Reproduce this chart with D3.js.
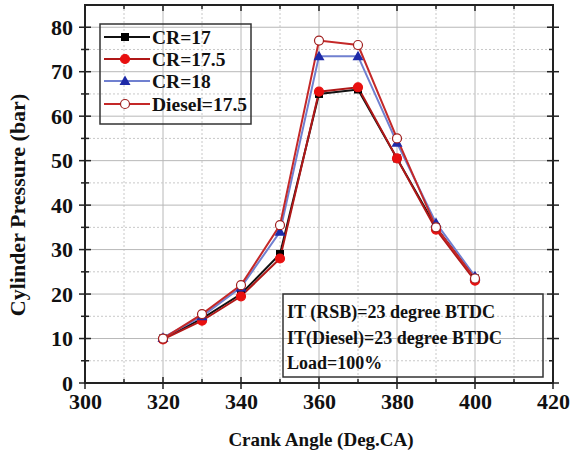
<!DOCTYPE html>
<html>
<head>
<meta charset="utf-8">
<script src="https://cdn.jsdelivr.net/npm/d3@7"></script>
<style>
  body { margin: 0; background: #fff; }
</style>
</head>
<body>
<div id="chart"></div>
<script>
var svgWidth = 575;
var svgHeight = 461;

var margin = { top: 5, right: 22, bottom: 78, left: 85 };
var width = svgWidth - margin.left - margin.right;
var height = svgHeight - margin.top - margin.bottom;
var fontName = "Liberation Serif";

// data
var crankAngle = [320, 330, 340, 350, 360, 370, 380, 390, 400];
var cr17      = [10.0, 14.5, 20.0, 29.0, 65.0, 66.0, 50.5, 35.0, 23.5];
var cr175     = [9.8, 14.0, 19.5, 28.0, 65.5, 66.5, 50.5, 34.5, 23.0];
var cr18      = [10.2, 15.0, 21.5, 34.0, 73.5, 73.5, 54.0, 36.0, 24.0];
var diesel175 = [10.0, 15.5, 22.0, 35.5, 77.0, 76.0, 55.0, 35.0, 23.5];

var seriesNames = ["CR=17", "CR=17.5", "CR=18", "Diesel=17.5"];
var xTicks = [300, 320, 340, 360, 380, 400, 420];
var yTicks = [0, 10, 20, 30, 40, 50, 60, 70, 80];
var notes = ["IT (RSB)=23 degree BTDC", "IT(Diesel)=23 degree BTDC", "Load=100%"];

var series = [
  { name: seriesNames[0], values: cr17, line: "#111", marker: "square", fill: "#000", stroke: "#000" },
  { name: seriesNames[1], values: cr175, line: "#b01818", marker: "circle", fill: "#e81010", stroke: "#e81010" },
  { name: seriesNames[2], values: cr18, line: "#7080d0", marker: "triangle", fill: "#1e2aa8", stroke: "#1e2aa8" },
  { name: seriesNames[3], values: diesel175, line: "#c42828", marker: "circle", fill: "#fff", stroke: "#a02020" }
];

var svg = d3.select("#chart")
  .append("svg")
  .attr("width", svgWidth)
  .attr("height", svgHeight);

// every text gets its family, weight and size as inline style
function label(sel, size) {
  return sel.style("font-family", fontName).style("font-weight", "bold")
    .style("font-size", size + "px").attr("fill", "#111");
}

var chartGroup = svg.append("g")
  .attr("transform", `translate(${margin.left}, ${margin.top})`);

var xScale = d3.scaleLinear().domain([300, 420]).range([0, width]);
var yScale = d3.scaleLinear().domain([0, 85]).range([height, 0]);

// grid: solid at major, dotted at minor
var majorX = d3.range(320, 420, 20);
var minorX = d3.range(310, 420, 20);
var majorY = d3.range(10, 85, 10);
var minorY = d3.range(5, 85, 10);

chartGroup.selectAll(".gx").data(majorX).enter().append("line")
  .attr("x1", d => xScale(d)).attr("x2", d => xScale(d))
  .attr("y1", 0).attr("y2", height)
  .attr("stroke", "#b8b8b8").attr("stroke-width", 1);
chartGroup.selectAll(".gxm").data(minorX).enter().append("line")
  .attr("x1", d => xScale(d)).attr("x2", d => xScale(d))
  .attr("y1", 0).attr("y2", height)
  .attr("stroke", "#c8c8c8").attr("stroke-width", 1).attr("stroke-dasharray", "2,2");
chartGroup.selectAll(".gy").data(majorY).enter().append("line")
  .attr("y1", d => yScale(d)).attr("y2", d => yScale(d))
  .attr("x1", 0).attr("x2", width)
  .attr("stroke", "#b8b8b8").attr("stroke-width", 1);
chartGroup.selectAll(".gym").data(minorY).enter().append("line")
  .attr("y1", d => yScale(d)).attr("y2", d => yScale(d))
  .attr("x1", 0).attr("x2", width)
  .attr("stroke", "#c8c8c8").attr("stroke-width", 1).attr("stroke-dasharray", "2,2");

// axes
var bottomAxis = d3.axisBottom(xScale).tickValues(xTicks).tickSize(0).tickPadding(10);
var leftAxis = d3.axisLeft(yScale).tickValues(yTicks).tickSize(0).tickPadding(12);

var gx = chartGroup.append("g").attr("transform", `translate(0, ${height})`).call(bottomAxis);
var gy = chartGroup.append("g").call(leftAxis);
[gx, gy].forEach(function(g) {
  g.select(".domain").remove();
  g.attr("font-family", null).attr("font-size", null);
  label(g.selectAll("text"), 22);
});

// frame
chartGroup.append("rect")
  .attr("x", 0).attr("y", 0).attr("width", width).attr("height", height)
  .attr("fill", "none").attr("stroke", "#222").attr("stroke-width", 2);

// tick marks on all four sides
var allMajorX = d3.range(300, 421, 20), allMinorX = d3.range(310, 420, 20);
var allMajorY = d3.range(0, 81, 10), allMinorY = d3.range(5, 85, 10);
function tickLines(vals, horiz, pos, a, b) {
  chartGroup.append("g").selectAll("line").data(vals).enter().append("line")
    .attr("x1", d => horiz ? xScale(d) : pos + a)
    .attr("x2", d => horiz ? xScale(d) : pos + b)
    .attr("y1", d => horiz ? pos + a : yScale(d))
    .attr("y2", d => horiz ? pos + b : yScale(d))
    .attr("stroke", "#222").attr("stroke-width", 1.5);
}
tickLines(allMajorX, true, height, -6, 6);
tickLines(allMinorX, true, height, -4, 0);
tickLines(allMajorX, true, 0, 0, 6);
tickLines(allMinorX, true, 0, 0, 4);
tickLines(allMajorY, false, 0, -6, 6);
tickLines(allMinorY, false, 0, -4, 4);
tickLines(allMajorY, false, width, -6, 6);
tickLines(allMinorY, false, width, -4, 0);

// markers
function drawMarker(g, s, x, y) {
  if (s.marker === "square") {
    g.append("rect").attr("x", x - 4).attr("y", y - 4).attr("width", 8).attr("height", 8)
      .attr("fill", s.fill);
  } else if (s.marker === "triangle") {
    g.append("path").attr("d", `M${x},${y - 5.5}L${x + 5.5},${y + 4}L${x - 5.5},${y + 4}Z`)
      .attr("fill", s.fill);
  } else {
    g.append("circle").attr("cx", x).attr("cy", y).attr("r", 4.5)
      .attr("fill", s.fill).attr("stroke", s.stroke).attr("stroke-width", 1.2);
  }
}

var lineGen = d3.line().x((d, i) => xScale(crankAngle[i])).y(d => yScale(d));

series.forEach(function(s) {
  chartGroup.append("path").datum(s.values)
    .attr("d", lineGen).attr("fill", "none")
    .attr("stroke", s.line).attr("stroke-width", 2);
});
series.forEach(function(s) {
  var g = chartGroup.append("g");
  s.values.forEach(function(v, i) { drawMarker(g, s, xScale(crankAngle[i]), yScale(v)); });
});

// axis titles
label(svg.append("text"), 19)
  .attr("x", margin.left + width / 2 + 2).attr("y", 446)
  .attr("text-anchor", "middle")
  .text("Crank Angle (Deg.CA)");
label(svg.append("text"), 22)
  .attr("transform", `translate(25, ${margin.top + 200}) rotate(-90)`)
  .attr("text-anchor", "middle")
  .text("Cylinder Pressure (bar)");

// legend
var legend = svg.append("g");
legend.append("rect").attr("x", 100).attr("y", 24).attr("width", 151).attr("height", 100)
  .attr("fill", "none").attr("stroke", "#333").attr("stroke-width", 1.5);
var legendY = [37, 59, 81, 104];
series.forEach(function(s, i) {
  var y = legendY[i];
  legend.append("line").attr("x1", 104).attr("x2", 150).attr("y1", y).attr("y2", y)
    .attr("stroke", s.line).attr("stroke-width", 2);
  drawMarker(legend, s, 125, y);
  label(legend.append("text"), 19.5).attr("x", 152).attr("y", y + 7)
    .text(s.name);
});

// note box
var note = svg.append("g");
note.append("rect").attr("x", 283).attr("y", 294).attr("width", 260).attr("height", 83)
  .attr("fill", "none").attr("stroke", "#333").attr("stroke-width", 1.5);
notes.forEach(function(t, i) {
  label(note.append("text"), 18).attr("x", 287).attr("y", 318 + i * 25.5)
    .text(t);
});
</script>
</body>
</html>
